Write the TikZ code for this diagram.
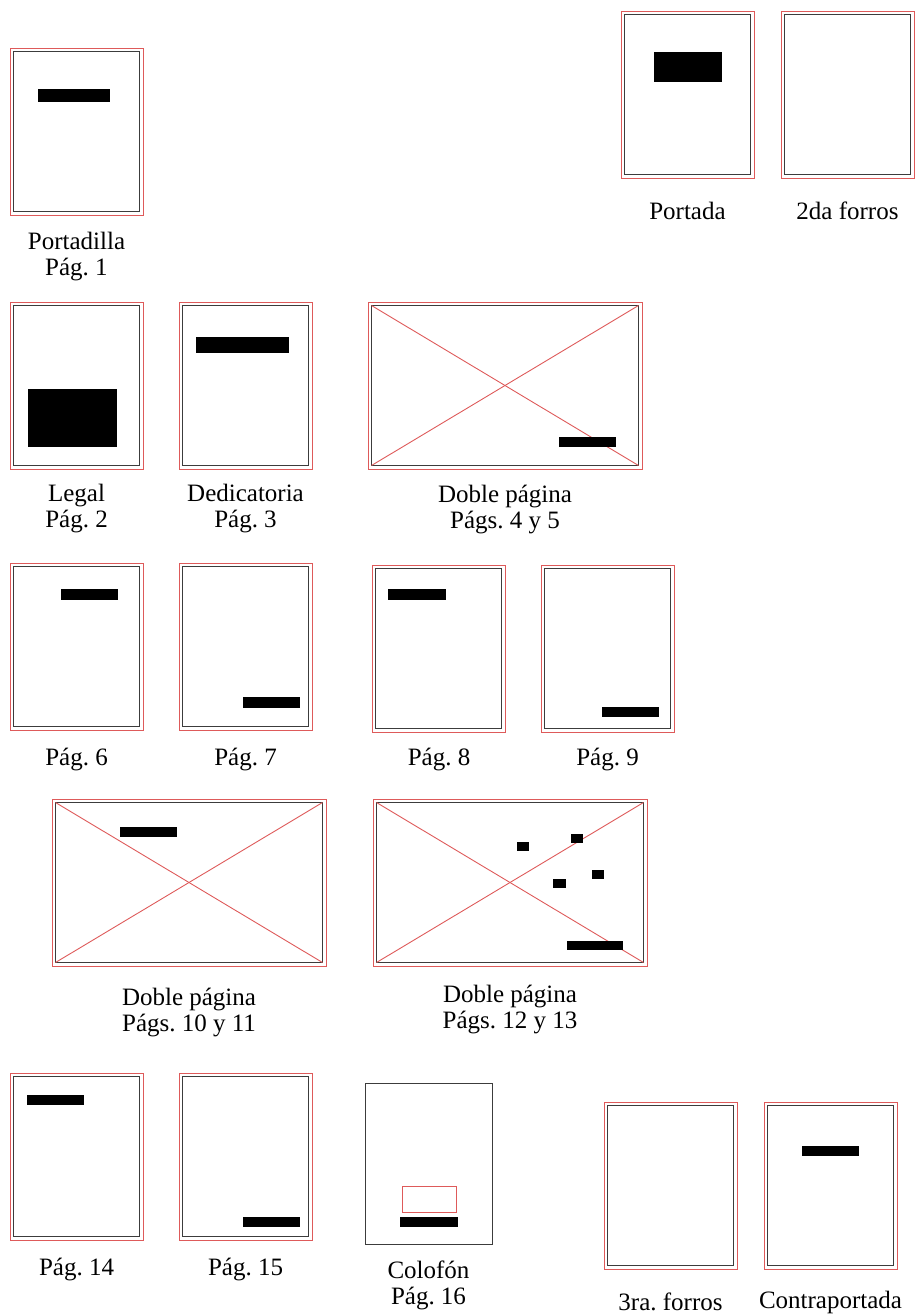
\documentclass[tikz,border=0pt]{standalone}
\usepackage{fontspec}
\setmainfont{Liberation Serif}
\usepackage{tikz}
\usetikzlibrary{positioning}
\frenchspacing

\definecolor{rojo}{RGB}{222,90,90}
\definecolor{gris}{RGB}{60,60,60}

\tikzset{
    borde/.style={draw=rojo, line width=1pt},
    caja/.style={draw=gris, line width=1.4pt},
    equis/.style={draw=rojo, line width=0.9pt},
    bloque/.style={fill=black},
    rotulo/.style={font=\fontsize{25}{26}\selectfont, align=center, inner sep=0pt}
}

\begin{document}
\begin{tikzpicture}[x=1pt, y=-1pt]
        \useasboundingbox (0, 0) rectangle (914, 1315);

        \foreach \x/\y in {10/48, 621/11, 781/11, 10/302, 179/302, 10/563, 179/563, 372/565, 541/565, 10/1073, 179/1073, 604/1102, 764/1102} {
            \draw[borde] (\x, \y) rectangle ++(133, 167);
            \draw[caja] (\x+3.5, \y+3.5) rectangle ++(126, 160);
        }

        \foreach \x/\y in {368/302, 52/799, 373/799} {
            \draw[borde] (\x, \y) rectangle ++(274, 167);
            \draw[caja] (\x+3.5, \y+3.5) rectangle ++(267, 160);
            \draw[equis] (\x+3.5, \y+3.5) -- ++(267, 160);
            \draw[equis] (\x+3.5, \y+163.5) -- ++(267, -160);
        }

        \draw[caja, line width=1pt] (365, 1083) rectangle (492, 1244);
        \draw[borde] (402, 1186) rectangle (456, 1212);

        \foreach \xa/\ya/\xb/\yb in {38/89/110/102, 654/52/722/82, 28/389/117/447, 196/337/289/353, 559/437/616/447, 61/589/118/600, 243/697/300/708, 388/589/446/600, 602/707/659/717, 120/827/177/837, 567/941/623/950, 517/842/529/851, 571/834/583/843, 553/879/566/888, 592/870/604/879, 27/1095/84/1105, 243/1217/300/1227, 400/1217/458/1227, 802/1146/859/1156} {
            \fill[bloque] (\xa, \ya) rectangle (\xb, \yb);
        }

        \node[rotulo] (portadilla) at (76.5, 257) {Portadilla\\Pág. 1};
        \node[rotulo] (portada) at (687.5, 211) {Portada};
        \node[rotulo] (forros2) at (847.5, 211) {2da forros};
        \node[rotulo] (legal) at (76.5, 509) {Legal\\Pág. 2};
        \node[rotulo] (dedicatoria) at (245.5, 509) {Dedicatoria\\Pág. 3};
        \node[rotulo] (doble45) at (505, 509) {Doble página\\Págs. 4 y 5};
        \node[rotulo] (pag6) at (76.5, 759) {Pág. 6};
        \node[rotulo] (pag7) at (245.5, 759) {Pág. 7};
        \node[rotulo] (pag8) at (439, 759) {Pág. 8};
        \node[rotulo] (pag9) at (607.5, 759) {Pág. 9};
        \node[rotulo] (doble1011) at (189, 1012) {Doble página\\Págs. 10 y 11};
        \node[rotulo] (doble1213) at (510, 1009) {Doble página\\Págs. 12 y 13};
        \node[rotulo] (pag14) at (76.5, 1269) {Pág. 14};
        \node[rotulo] (pag15) at (245.5, 1269) {Pág. 15};
        \node[rotulo] (colofon) at (428.5, 1285) {Colofón\\Pág. 16};
        \node[rotulo] (forros3) at (670.5, 1302) {3ra. forros};
        \node[rotulo] (contraportada) at (830.5, 1302) {Contraportada};
    \end{tikzpicture}
\end{document}
